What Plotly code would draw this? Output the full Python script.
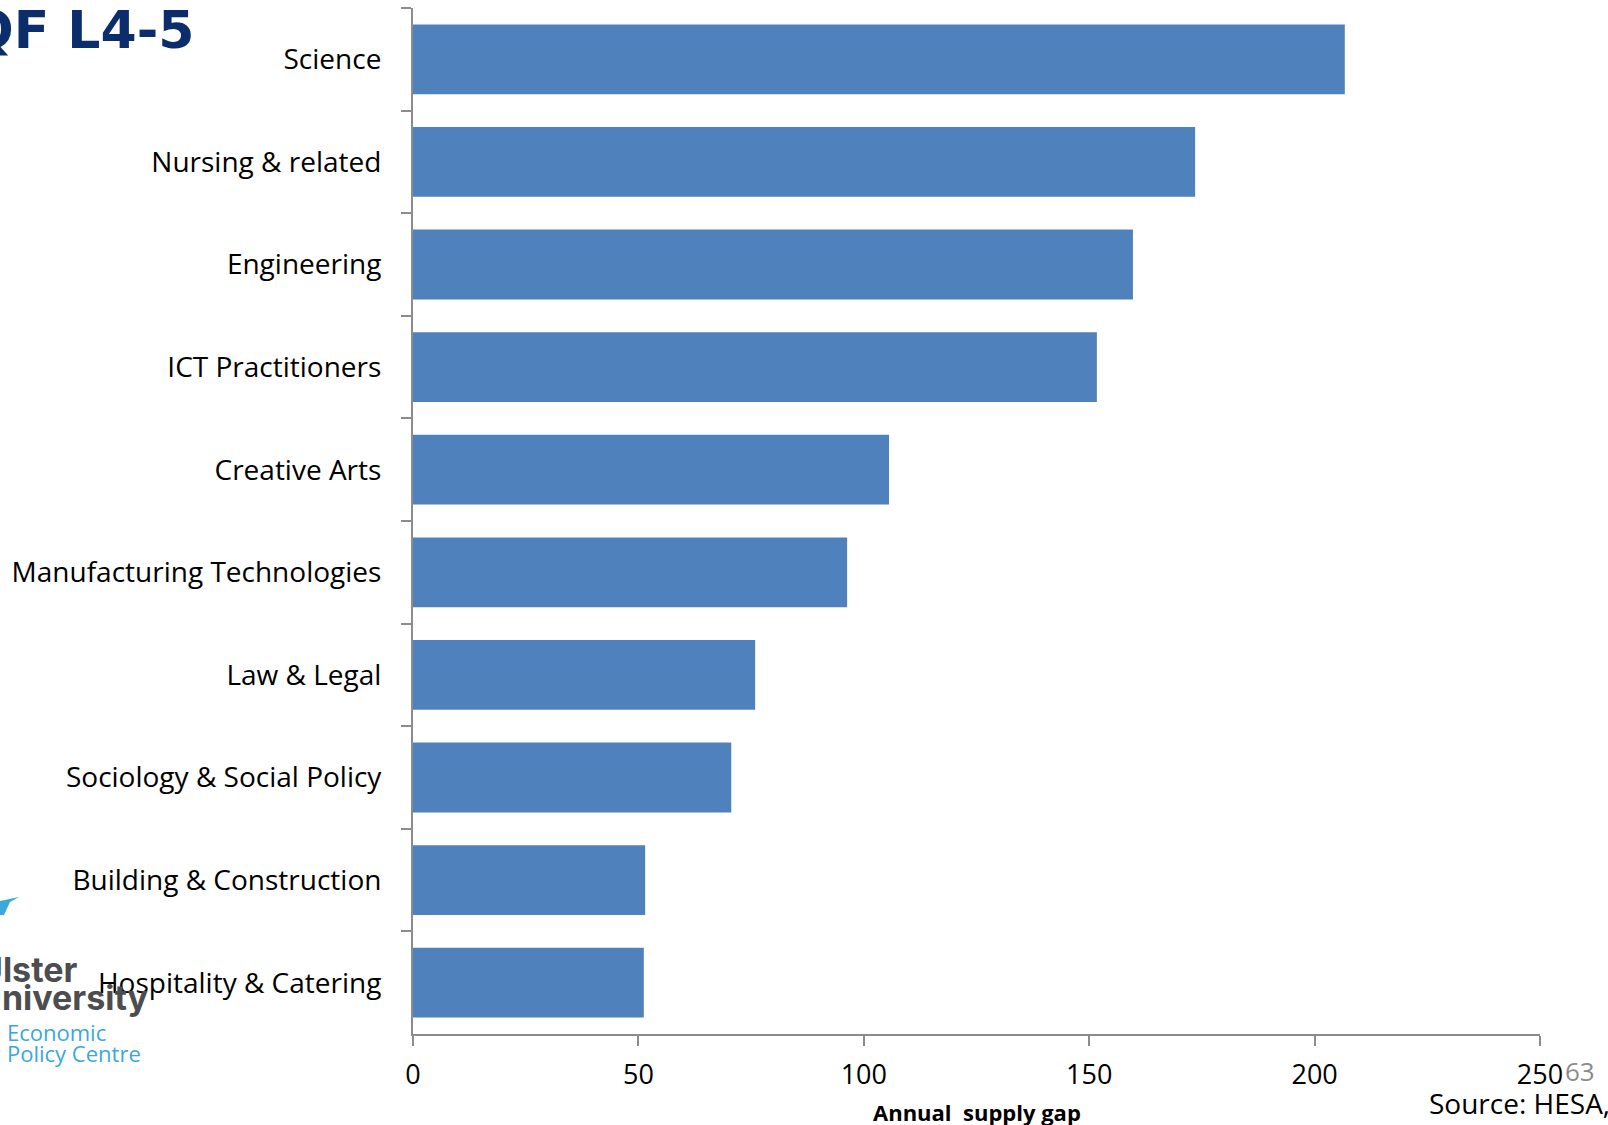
import plotly.graph_objects as go

# Subject areas and their annual supply gap (NQF levels 4-5)
subjects = [
    "Science",
    "Nursing & related",
    "Engineering",
    "ICT Practitioners",
    "Creative Arts",
    "Manufacturing Technologies",
    "Law & Legal",
    "Sociology & Social Policy",
    "Building & Construction",
    "Hospitality & Catering",
]
supply_gap = [206.7, 173.5, 159.7, 151.7, 105.6, 96.3, 75.9, 70.6, 51.5, 51.2]
x_ticks = [0, 50, 100, 150, 200, 250]

W, H = 1608, 1125
ML, MR, MT, MB = 413, 68, 8, 91
PW, PH = W - ML - MR, H - MT - MB


def px(xp):
    return (xp - ML) / PW


def py(yp):
    return (H - MB - yp) / PH


LABEL_FONT = "Open Sans"

fig = go.Figure(
    go.Bar(
        x=supply_gap,
        y=subjects,
        orientation="h",
        marker=dict(color="#4F81BD", line=dict(width=0)),
        hoverinfo="x+y",
    )
)

fig.update_layout(
    width=W,
    height=H,
    margin=dict(l=ML, r=MR, t=MT, b=MB),
    paper_bgcolor="white",
    plot_bgcolor="white",
    bargap=0.32,
    showlegend=False,
    font=dict(family=LABEL_FONT, color="black"),
)

fig.update_yaxes(
    autorange="reversed",
    showline=True,
    linecolor="#8C8C8C",
    linewidth=2,
    ticks="outside",
    ticklen=10,
    tickwidth=2,
    tickcolor="#8C8C8C",
    tickson="boundaries",
    showgrid=False,
    tickfont=dict(size=28, family=LABEL_FONT, color="black"),
    ticklabelstandoff=24,
)

fig.update_xaxes(
    range=[0, 250],
    tickvals=x_ticks,
    ticktext=[str(v) for v in x_ticks],
    showline=True,
    linecolor="#8C8C8C",
    linewidth=2,
    ticks="outside",
    ticklen=10,
    tickwidth=2,
    tickcolor="#8C8C8C",
    showgrid=False,
    zeroline=False,
    tickfont=dict(size=27, family=LABEL_FONT, color="black"),
    ticklabelstandoff=6,
)

annotations = [
    # axis title
    dict(x=px(977), y=py(1112), text="<b>Annual  supply gap</b>",
         font=dict(size=22, family=LABEL_FONT, color="black")),
    # slide title, partly off the left edge
    dict(x=px(196), y=py(30), text="<b>NQF L4-5</b>", xanchor="right",
         font=dict(size=52, family="DejaVu Sans", color="#0B2D6B")),
    # page number and source line
    dict(x=px(1563), y=py(1071), text="63", xanchor="left",
         font=dict(size=26, family=LABEL_FONT, color="#8C8C8C")),
    dict(x=px(1427), y=py(1103), text="Source: HESA,", xanchor="left",
         font=dict(size=28, family=LABEL_FONT, color="black")),
    # university logo text
    dict(x=px(80), y=py(969), text="<b>Ulster</b>", xanchor="right",
         font=dict(size=34, family="Inter", color="#4D4D4F")),
    dict(x=px(150), y=py(997), text="<b>University</b>", xanchor="right",
         font=dict(size=34, family="Inter", color="#4D4D4F")),
    dict(x=px(5), y=py(1032), text="Economic", xanchor="left",
         font=dict(size=22, family=LABEL_FONT, color="#3AA8DB")),
    dict(x=px(5), y=py(1053), text="Policy Centre", xanchor="left",
         font=dict(size=22, family=LABEL_FONT, color="#3AA8DB")),
]
for a in annotations:
    a.update(xref="paper", yref="paper", showarrow=False)
    a.setdefault("xanchor", "center")
    a.setdefault("yanchor", "middle")
fig.update_layout(annotations=annotations)

# logo swoosh
pts = [(0, 901), (19, 897), (10, 902), (4, 915), (0, 915)]
path = "M " + " L ".join(f"{px(a)},{py(b)}" for a, b in pts) + " Z"
fig.add_shape(type="path", path=path, xref="paper", yref="paper",
              fillcolor="#3AA8DB", line=dict(width=0), layer="above")

fig.write_html("out.html")
